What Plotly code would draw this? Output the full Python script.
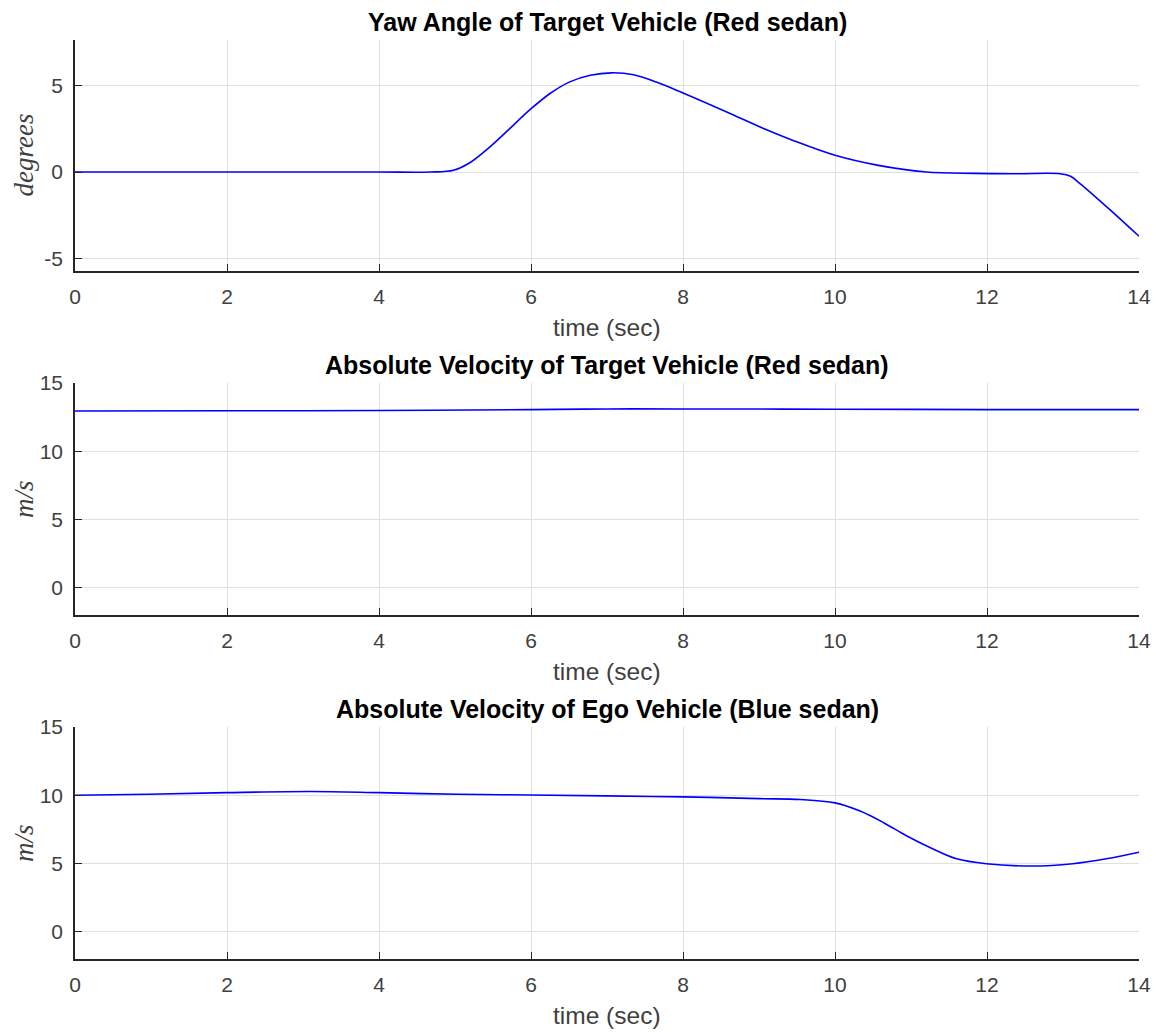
import plotly.graph_objects as go

# ---- data ----
yaw_t = [0, 2, 4, 4.67, 4.98, 5.2, 5.46, 5.72, 5.99, 6.25, 6.51, 6.78, 7.06, 7.35, 7.65, 8.0,
         8.62, 9.06, 9.44, 10.0, 10.57, 11.2, 11.84, 12.4, 12.96, 13.1, 13.22, 13.62, 14.0]
yaw_deg = [0, 0, 0, 0, 0.1, 0.55, 1.45, 2.5, 3.6, 4.52, 5.19, 5.57, 5.71, 5.6, 5.18, 4.55,
           3.37, 2.5, 1.83, 0.96, 0.38, 0.0, -0.08, -0.1, -0.1, -0.25, -0.65, -2.18, -3.7]

tgt_t = [0, 2, 4, 6, 7, 8, 10, 12, 14]
tgt_v = [12.95, 12.97, 12.98, 13.05, 13.1, 13.1, 13.08, 13.05, 13.05]

ego_t = [0, 0.97, 2, 3.1, 4, 5.04, 6, 6.98, 8, 9.01, 9.54, 10.0, 10.33, 10.64, 10.94, 11.29,
         11.6, 11.99, 12.6, 13.13, 13.57, 14.0]
ego_v = [10.0, 10.07, 10.19, 10.27, 10.19, 10.07, 10.02, 9.95, 9.88, 9.75, 9.69, 9.44, 8.84,
         7.99, 7.03, 6.06, 5.34, 4.98, 4.81, 4.98, 5.34, 5.82]

titles = ["Yaw Angle of Target Vehicle (Red sedan)",
          "Absolute Velocity of Target Vehicle (Red sedan)",
          "Absolute Velocity of Ego Vehicle (Blue sedan)"]
ylabels = ["degrees", "m/s", "m/s"]
xticks = [0, 2, 4, 6, 8, 10, 12, 14]
yticks = [[-5, 0, 5], [0, 5, 10, 15], [0, 5, 10, 15]]
yticklabels = [["-5", "0", "5"], ["0", "5", "10", "15"], ["0", "5", "10", "15"]]

W, H = 1156, 1032
L, R = 75, 1139
panels = [(40, 271), (383, 615), (727, 959)]
yranges = [[-5.7, 7.6], [-2, 15], [-2, 15]]

fig = go.Figure()
series = [(yaw_t, yaw_deg), (tgt_t, tgt_v), (ego_t, ego_v)]
for i, (t, v) in enumerate(series):
    fig.add_trace(go.Scatter(x=t, y=v, mode="lines",
                             line=dict(color="#0000ff", width=1.6, shape="spline", smoothing=1.0),
                             xaxis=f"x{i+1}" if i else "x", yaxis=f"y{i+1}" if i else "y",
                             showlegend=False, hoverinfo="skip"))

SANS = "Liberation Sans, Arial, Helvetica, sans-serif"
tickfont = dict(family=SANS, size=21, color="#404040")
layout = dict(width=W, height=H, margin=dict(l=0, r=0, t=0, b=0), autosize=False,
              paper_bgcolor="white", plot_bgcolor="white", showlegend=False)
annotations = []
for i, (top, bot) in enumerate(panels):
    sfx = str(i + 1) if i else ""
    dom_y = [1 - bot / H, 1 - top / H]
    common = dict(showgrid=True, gridcolor="#e0e0e0", gridwidth=1, zeroline=False,
                  showline=True, linecolor="#262626", linewidth=1.5,
                  ticks="inside", ticklen=7, tickcolor="#262626", tickwidth=1.2,
                  tickfont=tickfont, mirror=False, automargin=False)
    layout["xaxis" + sfx] = dict(domain=[L / W, R / W], range=[0, 14], tickvals=xticks,
                                 anchor="y" + sfx, ticklabelstandoff=6, **common)
    layout["yaxis" + sfx] = dict(domain=dom_y, range=yranges[i], tickvals=yticks[i],
                                 ticktext=yticklabels[i], anchor="x" + sfx,
                                 ticklabelstandoff=6, **common)
    annotations.append(dict(text="<b>" + titles[i] + "</b>", x=(L + R) / 2 / W, y=1 - (top - 18) / H,
                            xref="paper", yref="paper", showarrow=False, xanchor="center", yanchor="middle",
                            font=dict(family=SANS, size=25, color="#000000")))
    annotations.append(dict(text="time (sec)", x=(L + R) / 2 / W, y=1 - (bot + 56) / H,
                            xref="paper", yref="paper", showarrow=False, xanchor="center", yanchor="middle",
                            font=dict(family=SANS, size=24.5, color="#404040")))
    annotations.append(dict(text="<i>" + ylabels[i] + "</i>", x=24 / W, y=1 - ((top + bot) / 2) / H,
                            xref="paper", yref="paper", showarrow=False, xanchor="center", yanchor="middle",
                            textangle=-90,
                            font=dict(family="Liberation Serif, DejaVu Serif, serif", size=27, color="#404040")))
layout["annotations"] = annotations
fig.update_layout(**layout)
fig.write_html("out.html", config={"displayModeBar": False},
               post_script="document.body.style.margin='0';document.body.style.overflow='hidden';")
